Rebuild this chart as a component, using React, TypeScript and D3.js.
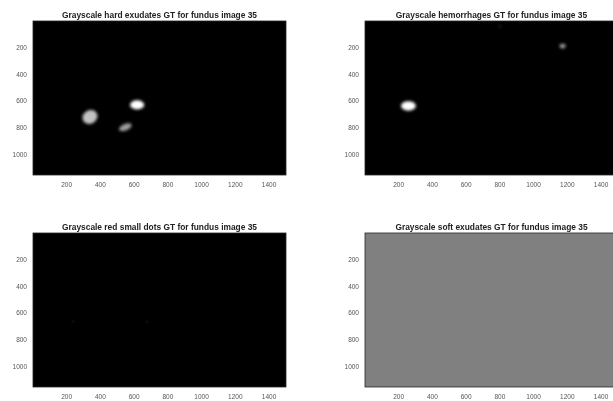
import React from "react";
import * as d3 from "d3";

const imgWidth = 1500;
const imgHeight = 1152;
const xTicks = [200, 400, 600, 800, 1000, 1200, 1400];
const yTicks = [200, 400, 600, 800, 1000];

const titles = [
  "Grayscale hard exudates GT for fundus image 35",
  "Grayscale hemorrhages GT for fundus image 35",
  "Grayscale red small dots GT for fundus image 35",
  "Grayscale soft exudates GT for fundus image 35",
];
const backgrounds = [0, 0, 0, 0.5];

// blobs: [cx, cy, rx, ry, rotationDeg, intensity]
const hardExudates = [
  [338, 718, 46, 50, -30, 0.76],
  [618, 628, 42, 34, 0, 1.0],
  [548, 795, 40, 24, -22, 0.62],
];
const hemorrhages = [
  [258, 636, 44, 36, 0, 1.0],
  [1172, 188, 18, 18, 0, 0.6],
  [800, 40, 12, 10, 0, 0.12],
];
const redSmallDots = [
  [237, 665, 8, 12, 0, 0.08],
  [676, 665, 8, 10, 0, 0.08],
];
const softExudates: number[][] = [];
const panelBlobs = [hardExudates, hemorrhages, redSmallDots, softExudates];

const panelOrigins = [
  [33, 21],
  [365, 21],
  [33, 233],
  [365, 233],
];
const PW = 253;
const PH = 154;

function gray(v: number) {
  const c = Math.round(v * 255);
  return `rgb(${c},${c},${c})`;
}

function Panel({ i }: { i: number }) {
  const [ox, oy] = panelOrigins[i];
  const x = d3.scaleLinear().domain([0.5, imgWidth + 0.5]).range([ox, ox + PW]);
  const y = d3.scaleLinear().domain([0.5, imgHeight + 0.5]).range([oy, oy + PH]);
  const blobs = panelBlobs[i];
  return (
    <g>
      <text
        x={ox + PW / 2}
        y={oy - 3.5}
        textAnchor="middle"
        fontSize={8.4}
        fontWeight="bold"
        fill="#222"
        fontFamily="Liberation Sans, Arial, sans-serif"
      >
        {titles[i]}
      </text>
      <rect x={ox} y={oy} width={PW} height={PH} fill={gray(backgrounds[i])} />
      <g filter="url(#blur)">
        {blobs.map((b, j) => {
          const [cx, cy, rx, ry, rot, v] = b;
          const sx = x(cx);
          const sy = y(cy);
          return (
            <ellipse
              key={j}
              cx={sx}
              cy={sy}
              rx={x(cx + rx) - sx}
              ry={y(cy + ry) - sy}
              transform={`rotate(${rot} ${sx} ${sy})`}
              fill={gray(v)}
            />
          );
        })}
      </g>
      <rect x={ox} y={oy} width={PW} height={PH} fill="none" stroke="#262626" strokeWidth={0.8} />
      {xTicks.map((t) => (
        <text
          key={"x" + t}
          x={x(t)}
          y={oy + PH + 12}
          textAnchor="middle"
          fontSize={6.5}
          fill="#555"
          fontFamily="Liberation Sans, Arial, sans-serif"
        >
          {t}
        </text>
      ))}
      {yTicks.map((t) => (
        <text
          key={"y" + t}
          x={ox - 6}
          y={y(t) + 2.2}
          textAnchor="end"
          fontSize={6.5}
          fill="#555"
          fontFamily="Liberation Sans, Arial, sans-serif"
        >
          {t}
        </text>
      ))}
    </g>
  );
}

export default function App() {
  return (
    <svg
      width={613}
      height={401}
      style={{ position: "absolute", left: 0, top: 0, background: "#fff", filter: "blur(0.5px)" }}
    >
      <defs>
        <filter id="blur" x="-50%" y="-50%" width="200%" height="200%">
          <feGaussianBlur stdDeviation={1.8} />
        </filter>
      </defs>
      <rect width={613} height={401} fill="#fff" />
      {[0, 1, 2, 3].map((i) => (
        <Panel key={i} i={i} />
      ))}
    </svg>
  );
}
